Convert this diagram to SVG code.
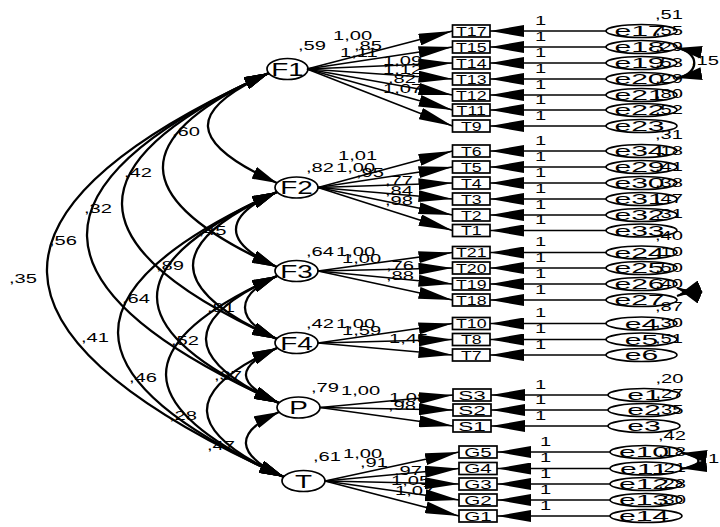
<svg xmlns="http://www.w3.org/2000/svg" width="720" height="527" viewBox="0 0 720 527">
<defs>
<style>
text{font-family:"Liberation Sans",Arial,sans-serif;fill:#000}
.nd{fill:#fff;stroke:#000;stroke-width:1.7}
.ln{fill:none;stroke:#000;stroke-width:1.6}
.cv{fill:none;stroke:#000;stroke-width:2.3}
.lat{font-size:18px;text-anchor:middle}
.obs{font-size:12.5px;text-anchor:middle}
.err{font-size:14px;text-anchor:middle}
.n{font-size:13px}
</style>
<marker id="ah" markerUnits="userSpaceOnUse" viewBox="0 -6 34 12" markerWidth="34" markerHeight="12" refX="34" refY="0" orient="auto"><path d="M0,-6 L34,0 L0,6 Z"/></marker>
<marker id="ac" markerUnits="userSpaceOnUse" viewBox="0 -6.5 25 13" markerWidth="25" markerHeight="13" refX="25" refY="0" orient="auto-start-reverse"><path d="M0,-6.5 L25,0 L0,6.5 Z"/></marker>
</defs>
<rect width="720" height="527" fill="#fff"/>

<g id="nodes">
<g id="F1"><ellipse class="nd" cx="287.5" cy="69" rx="20.5" ry="10.5"/><text class="lat" transform="matrix(1.55 0 0 1 287.5 75.5)">F1</text><text class="n" transform="matrix(1.55 0 0 1 298 50)">,59</text></g>
<g id="F2"><ellipse class="nd" cx="296.5" cy="187.5" rx="21.5" ry="10.5"/><text class="lat" transform="matrix(1.55 0 0 1 296.5 194)">F2</text><text class="n" transform="matrix(1.55 0 0 1 306 172)">,82</text></g>
<g id="F3"><ellipse class="nd" cx="296.5" cy="271" rx="21.5" ry="10.5"/><text class="lat" transform="matrix(1.55 0 0 1 296.5 277.5)">F3</text><text class="n" transform="matrix(1.55 0 0 1 306 256)">,64</text></g>
<g id="F4"><ellipse class="nd" cx="296.5" cy="343" rx="21.5" ry="10.5"/><text class="lat" transform="matrix(1.55 0 0 1 296.5 349.5)">F4</text><text class="n" transform="matrix(1.55 0 0 1 306 328)">,42</text></g>
<g id="P"><ellipse class="nd" cx="298.5" cy="407.5" rx="21.5" ry="10.5"/><text class="lat" transform="matrix(1.55 0 0 1 298.5 414)">P</text><text class="n" transform="matrix(1.55 0 0 1 311 392)">,79</text></g>
<g id="T"><ellipse class="nd" cx="303.5" cy="481" rx="21.5" ry="10.5"/><text class="lat" transform="matrix(1.55 0 0 1 303.5 487.5)">T</text><text class="n" transform="matrix(1.55 0 0 1 313 461)">,61</text></g>

<g id="T17"><rect class="nd" x="452.5" y="25" width="37.5" height="12"/><text class="obs" transform="matrix(1.42 0 0 1 471.25 35.5)">T17</text></g>
<g id="T15"><rect class="nd" x="452.5" y="41" width="37.5" height="12"/><text class="obs" transform="matrix(1.42 0 0 1 471.25 51.5)">T15</text></g>
<g id="T14"><rect class="nd" x="452.5" y="57" width="37.5" height="12"/><text class="obs" transform="matrix(1.42 0 0 1 471.25 67.5)">T14</text></g>
<g id="T13"><rect class="nd" x="452.5" y="73" width="37.5" height="12"/><text class="obs" transform="matrix(1.42 0 0 1 471.25 83.5)">T13</text></g>
<g id="T12"><rect class="nd" x="452.5" y="89" width="37.5" height="12"/><text class="obs" transform="matrix(1.42 0 0 1 471.25 99.5)">T12</text></g>
<g id="T11"><rect class="nd" x="452.5" y="104" width="37.5" height="12"/><text class="obs" transform="matrix(1.42 0 0 1 471.25 114.5)">T11</text></g>
<g id="T9"><rect class="nd" x="452.5" y="120" width="37.5" height="12"/><text class="obs" transform="matrix(1.42 0 0 1 471.25 130.5)">T9</text></g>
<g id="T6"><rect class="nd" x="452.5" y="145" width="37.5" height="12"/><text class="obs" transform="matrix(1.42 0 0 1 471.25 155.5)">T6</text></g>
<g id="T5"><rect class="nd" x="452.5" y="161" width="37.5" height="12"/><text class="obs" transform="matrix(1.42 0 0 1 471.25 171.5)">T5</text></g>
<g id="T4"><rect class="nd" x="452.5" y="177" width="37.5" height="12"/><text class="obs" transform="matrix(1.42 0 0 1 471.25 187.5)">T4</text></g>
<g id="T3"><rect class="nd" x="452.5" y="193" width="37.5" height="12"/><text class="obs" transform="matrix(1.42 0 0 1 471.25 203.5)">T3</text></g>
<g id="T2"><rect class="nd" x="452.5" y="209" width="37.5" height="12"/><text class="obs" transform="matrix(1.42 0 0 1 471.25 219.5)">T2</text></g>
<g id="T1"><rect class="nd" x="452.5" y="224.5" width="37.5" height="12"/><text class="obs" transform="matrix(1.42 0 0 1 471.25 235)">T1</text></g>
<g id="T21"><rect class="nd" x="452.5" y="246.5" width="37.5" height="12"/><text class="obs" transform="matrix(1.42 0 0 1 471.25 257)">T21</text></g>
<g id="T20"><rect class="nd" x="452.5" y="262" width="37.5" height="12"/><text class="obs" transform="matrix(1.42 0 0 1 471.25 272.5)">T20</text></g>
<g id="T19"><rect class="nd" x="452.5" y="278" width="37.5" height="12"/><text class="obs" transform="matrix(1.42 0 0 1 471.25 288.5)">T19</text></g>
<g id="T18"><rect class="nd" x="452.5" y="294" width="37.5" height="12"/><text class="obs" transform="matrix(1.42 0 0 1 471.25 304.5)">T18</text></g>
<g id="T10"><rect class="nd" x="452.5" y="317.5" width="37.5" height="12"/><text class="obs" transform="matrix(1.42 0 0 1 471.25 328)">T10</text></g>
<g id="T8"><rect class="nd" x="452.5" y="333.5" width="37.5" height="12"/><text class="obs" transform="matrix(1.42 0 0 1 471.25 344)">T8</text></g>
<g id="T7"><rect class="nd" x="452.5" y="349" width="37.5" height="12"/><text class="obs" transform="matrix(1.42 0 0 1 471.25 359.5)">T7</text></g>
<g id="S3"><rect class="nd" x="453" y="389" width="38" height="12"/><text class="obs" transform="matrix(1.8 0 0 1 472 399.5)">S3</text></g>
<g id="S2"><rect class="nd" x="453" y="404" width="38" height="12"/><text class="obs" transform="matrix(1.8 0 0 1 472 414.5)">S2</text></g>
<g id="S1"><rect class="nd" x="453" y="420" width="38" height="12"/><text class="obs" transform="matrix(1.8 0 0 1 472 430.5)">S1</text></g>
<g id="G5"><rect class="nd" x="459" y="446" width="38" height="12"/><text class="obs" transform="matrix(1.65 0 0 1 478 456.5)">G5</text></g>
<g id="G4"><rect class="nd" x="459" y="462.5" width="38" height="12"/><text class="obs" transform="matrix(1.65 0 0 1 478 473)">G4</text></g>
<g id="G3"><rect class="nd" x="459" y="478" width="38" height="12"/><text class="obs" transform="matrix(1.65 0 0 1 478 488.5)">G3</text></g>
<g id="G2"><rect class="nd" x="459" y="494" width="38" height="12"/><text class="obs" transform="matrix(1.65 0 0 1 478 504.5)">G2</text></g>
<g id="G1"><rect class="nd" x="459" y="510" width="38" height="12"/><text class="obs" transform="matrix(1.65 0 0 1 478 520.5)">G1</text></g>

<g id="e17"><ellipse class="nd" cx="641.5" cy="31" rx="35.5" ry="6.5"/><text class="err" transform="matrix(2.15 0 0 1 639.5 36)">e17</text><text class="n" transform="matrix(1.55 0 0 1 655 18.5)">,51</text></g>
<g id="e18"><ellipse class="nd" cx="641.5" cy="47" rx="35.5" ry="6.5"/><text class="err" transform="matrix(2.15 0 0 1 639.5 52)">e18</text><text class="n" transform="matrix(1.55 0 0 1 655 34.5)">,55</text></g>
<g id="e19"><ellipse class="nd" cx="641.5" cy="63" rx="35.5" ry="6.5"/><text class="err" transform="matrix(2.15 0 0 1 639.5 68)">e19</text><text class="n" transform="matrix(1.55 0 0 1 655 50.5)">,29</text></g>
<g id="e20"><ellipse class="nd" cx="641.5" cy="79" rx="35.5" ry="6.5"/><text class="err" transform="matrix(2.15 0 0 1 639.5 84)">e20</text><text class="n" transform="matrix(1.55 0 0 1 655 66.5)">,53</text></g>
<g id="e21"><ellipse class="nd" cx="641.5" cy="95" rx="35.5" ry="6.5"/><text class="err" transform="matrix(2.15 0 0 1 639.5 100)">e21</text><text class="n" transform="matrix(1.55 0 0 1 655 82.5)">,29</text></g>
<g id="e22"><ellipse class="nd" cx="641.5" cy="110" rx="35.5" ry="6.5"/><text class="err" transform="matrix(2.15 0 0 1 639.5 115)">e22</text><text class="n" transform="matrix(1.55 0 0 1 655 97.5)">,80</text></g>
<g id="e23"><ellipse class="nd" cx="641.5" cy="126" rx="35.5" ry="6.5"/><text class="err" transform="matrix(2.15 0 0 1 639.5 131)">e23</text><text class="n" transform="matrix(1.55 0 0 1 655 113.5)">,52</text></g>
<g id="e34"><ellipse class="nd" cx="641.5" cy="151" rx="35.5" ry="6.5"/><text class="err" transform="matrix(2.15 0 0 1 639.5 156)">e34</text><text class="n" transform="matrix(1.55 0 0 1 655 138.5)">,31</text></g>
<g id="e29"><ellipse class="nd" cx="641.5" cy="167" rx="35.5" ry="6.5"/><text class="err" transform="matrix(2.15 0 0 1 639.5 172)">e29</text><text class="n" transform="matrix(1.55 0 0 1 655 154.5)">,18</text></g>
<g id="e30"><ellipse class="nd" cx="641.5" cy="183" rx="35.5" ry="6.5"/><text class="err" transform="matrix(2.15 0 0 1 639.5 188)">e30</text><text class="n" transform="matrix(1.55 0 0 1 655 170.5)">,41</text></g>
<g id="e31"><ellipse class="nd" cx="641.5" cy="199" rx="35.5" ry="6.5"/><text class="err" transform="matrix(2.15 0 0 1 639.5 204)">e31</text><text class="n" transform="matrix(1.55 0 0 1 655 186.5)">,38</text></g>
<g id="e32"><ellipse class="nd" cx="641.5" cy="215" rx="35.5" ry="6.5"/><text class="err" transform="matrix(2.15 0 0 1 639.5 220)">e32</text><text class="n" transform="matrix(1.55 0 0 1 655 202.5)">,47</text></g>
<g id="e33"><ellipse class="nd" cx="641.5" cy="230.5" rx="35.5" ry="6.5"/><text class="err" transform="matrix(2.15 0 0 1 639.5 235.5)">e33</text><text class="n" transform="matrix(1.55 0 0 1 655 218)">,31</text></g>
<g id="e24"><ellipse class="nd" cx="641.5" cy="252.5" rx="35.5" ry="6.5"/><text class="err" transform="matrix(2.15 0 0 1 639.5 257.5)">e24</text><text class="n" transform="matrix(1.55 0 0 1 655 240)">,40</text></g>
<g id="e25"><ellipse class="nd" cx="641.5" cy="268" rx="35.5" ry="6.5"/><text class="err" transform="matrix(2.15 0 0 1 639.5 273)">e25</text><text class="n" transform="matrix(1.55 0 0 1 655 255.5)">,10</text></g>
<g id="e26"><ellipse class="nd" cx="641.5" cy="284" rx="35.5" ry="6.5"/><text class="err" transform="matrix(2.15 0 0 1 639.5 289)">e26</text><text class="n" transform="matrix(1.55 0 0 1 655 271.5)">,50</text></g>
<g id="e27"><ellipse class="nd" cx="641.5" cy="300" rx="35.5" ry="6.5"/><text class="err" transform="matrix(2.15 0 0 1 639.5 305)">e27</text><text class="n" transform="matrix(1.55 0 0 1 655 287.5)">,40</text></g>
<g id="e4"><ellipse class="nd" cx="641.5" cy="323.5" rx="35.5" ry="6.5"/><text class="err" transform="matrix(2.15 0 0 1 641.5 328.5)">e4</text><text class="n" transform="matrix(1.55 0 0 1 655 311)">,87</text></g>
<g id="e5"><ellipse class="nd" cx="641.5" cy="339.5" rx="35.5" ry="6.5"/><text class="err" transform="matrix(2.15 0 0 1 641.5 344.5)">e5</text><text class="n" transform="matrix(1.55 0 0 1 655 327)">,30</text></g>
<g id="e6"><ellipse class="nd" cx="641.5" cy="355" rx="35.5" ry="6.5"/><text class="err" transform="matrix(2.15 0 0 1 641.5 360)">e6</text><text class="n" transform="matrix(1.55 0 0 1 655 342.5)">,51</text></g>
<g id="e1"><ellipse class="nd" cx="644" cy="395" rx="36" ry="6.5"/><text class="err" transform="matrix(2.15 0 0 1 644 400)">e1</text><text class="n" transform="matrix(1.55 0 0 1 655.5 382.5)">,20</text></g>
<g id="e2"><ellipse class="nd" cx="644" cy="410" rx="36" ry="6.5"/><text class="err" transform="matrix(2.15 0 0 1 644 415)">e2</text><text class="n" transform="matrix(1.55 0 0 1 655.5 397.5)">,27</text></g>
<g id="e3"><ellipse class="nd" cx="644" cy="426" rx="36" ry="6.5"/><text class="err" transform="matrix(2.15 0 0 1 644 431)">e3</text><text class="n" transform="matrix(1.55 0 0 1 655.5 413.5)">,35</text></g>
<g id="e10"><ellipse class="nd" cx="646" cy="452" rx="36" ry="6.5"/><text class="err" transform="matrix(2.15 0 0 1 644 457)">e10</text><text class="n" transform="matrix(1.55 0 0 1 658 439.5)">,42</text></g>
<g id="e11"><ellipse class="nd" cx="646" cy="468.5" rx="36" ry="6.5"/><text class="err" transform="matrix(2.15 0 0 1 644 473.5)">e11</text><text class="n" transform="matrix(1.55 0 0 1 658 456)">,18</text></g>
<g id="e12"><ellipse class="nd" cx="646" cy="484" rx="36" ry="6.5"/><text class="err" transform="matrix(2.15 0 0 1 644 489)">e12</text><text class="n" transform="matrix(1.55 0 0 1 658 471.5)">,21</text></g>
<g id="e13"><ellipse class="nd" cx="646" cy="500" rx="36" ry="6.5"/><text class="err" transform="matrix(2.15 0 0 1 644 505)">e13</text><text class="n" transform="matrix(1.55 0 0 1 658 487.5)">,28</text></g>
<g id="e14"><ellipse class="nd" cx="646" cy="516" rx="36" ry="6.5"/><text class="err" transform="matrix(2.15 0 0 1 644 521)">e14</text><text class="n" transform="matrix(1.55 0 0 1 658 503.5)">,30</text></g>
</g>

<g id="labels">
<text class="n" transform="matrix(1.55 0 0 1 333 40)">1,00</text>
<text class="n" transform="matrix(1.55 0 0 1 354 50)">,85</text>
<text class="n" transform="matrix(1.55 0 0 1 340 57)">1,11</text>
<text class="n" transform="matrix(1.55 0 0 1 383 65)">1,09</text>
<text class="n" transform="matrix(1.55 0 0 1 383 74)">1,12</text>
<text class="n" transform="matrix(1.55 0 0 1 388 83)">,82</text>
<text class="n" transform="matrix(1.55 0 0 1 383 93)">1,07</text>
<text class="n" transform="matrix(1.55 0 0 1 338 160)">1,01</text>
<text class="n" transform="matrix(1.55 0 0 1 336 172)">1,00</text>
<text class="n" transform="matrix(1.55 0 0 1 356 177)">,95</text>
<text class="n" transform="matrix(1.55 0 0 1 385 185)">,77</text>
<text class="n" transform="matrix(1.55 0 0 1 385 195)">,84</text>
<text class="n" transform="matrix(1.55 0 0 1 385 205)">,98</text>
<text class="n" transform="matrix(1.55 0 0 1 336 256)">1,00</text>
<text class="n" transform="matrix(1.55 0 0 1 342 263)">1,00</text>
<text class="n" transform="matrix(1.55 0 0 1 386 270)">,76</text>
<text class="n" transform="matrix(1.55 0 0 1 386 280)">,88</text>
<text class="n" transform="matrix(1.55 0 0 1 336 328)">1,00</text>
<text class="n" transform="matrix(1.55 0 0 1 342 335)">1,59</text>
<text class="n" transform="matrix(1.55 0 0 1 389 343)">1,45</text>
<text class="n" transform="matrix(1.55 0 0 1 341 395)">1,00</text>
<text class="n" transform="matrix(1.55 0 0 1 389 402)">1,08</text>
<text class="n" transform="matrix(1.55 0 0 1 388 410)">,98</text>
<text class="n" transform="matrix(1.55 0 0 1 343 458)">1,00</text>
<text class="n" transform="matrix(1.55 0 0 1 360 467)">,91</text>
<text class="n" transform="matrix(1.55 0 0 1 394 475)">,97</text>
<text class="n" transform="matrix(1.55 0 0 1 391 485)">1,05</text>
<text class="n" transform="matrix(1.55 0 0 1 395 495)">1,07</text>

<text class="n" transform="matrix(1.55 0 0 1 172 136)">,60</text>
<text class="n" transform="matrix(1.55 0 0 1 124 177)">,42</text>
<text class="n" transform="matrix(1.55 0 0 1 84 213)">,32</text>
<text class="n" transform="matrix(1.55 0 0 1 49 245)">,56</text>
<text class="n" transform="matrix(1.55 0 0 1 9 283)">,35</text>
<text class="n" transform="matrix(1.55 0 0 1 198.5 235)">,45</text>
<text class="n" transform="matrix(1.55 0 0 1 156 270)">,89</text>
<text class="n" transform="matrix(1.55 0 0 1 122 303)">,64</text>
<text class="n" transform="matrix(1.55 0 0 1 81 342)">,41</text>
<text class="n" transform="matrix(1.55 0 0 1 207 312)">,81</text>
<text class="n" transform="matrix(1.55 0 0 1 171 345)">,52</text>
<text class="n" transform="matrix(1.55 0 0 1 129 382)">,46</text>
<text class="n" transform="matrix(1.55 0 0 1 214 380)">,37</text>
<text class="n" transform="matrix(1.55 0 0 1 169 420)">,28</text>
<text class="n" transform="matrix(1.55 0 0 1 207 450)">,47</text>
<text class="n" transform="matrix(1.55 0 0 1 691 65)">,15</text>
<text class="n" transform="matrix(1.55 0 0 1 708 463)">1</text>

<text class="n" transform="matrix(1.55 0 0 1 535 24.5)">1</text>
<text class="n" transform="matrix(1.55 0 0 1 535 40.5)">1</text>
<text class="n" transform="matrix(1.55 0 0 1 535 56.5)">1</text>
<text class="n" transform="matrix(1.55 0 0 1 535 72.5)">1</text>
<text class="n" transform="matrix(1.55 0 0 1 535 88.5)">1</text>
<text class="n" transform="matrix(1.55 0 0 1 535 103.5)">1</text>
<text class="n" transform="matrix(1.55 0 0 1 535 119.5)">1</text>
<text class="n" transform="matrix(1.55 0 0 1 535 144.5)">1</text>
<text class="n" transform="matrix(1.55 0 0 1 535 160.5)">1</text>
<text class="n" transform="matrix(1.55 0 0 1 535 176.5)">1</text>
<text class="n" transform="matrix(1.55 0 0 1 535 192.5)">1</text>
<text class="n" transform="matrix(1.55 0 0 1 535 208.5)">1</text>
<text class="n" transform="matrix(1.55 0 0 1 535 224)">1</text>
<text class="n" transform="matrix(1.55 0 0 1 535 246)">1</text>
<text class="n" transform="matrix(1.55 0 0 1 535 261.5)">1</text>
<text class="n" transform="matrix(1.55 0 0 1 535 277.5)">1</text>
<text class="n" transform="matrix(1.55 0 0 1 535 293.5)">1</text>
<text class="n" transform="matrix(1.55 0 0 1 535 317)">1</text>
<text class="n" transform="matrix(1.55 0 0 1 535 333)">1</text>
<text class="n" transform="matrix(1.55 0 0 1 535 348.5)">1</text>
<text class="n" transform="matrix(1.55 0 0 1 535 388.5)">1</text>
<text class="n" transform="matrix(1.55 0 0 1 535 403.5)">1</text>
<text class="n" transform="matrix(1.55 0 0 1 535 419.5)">1</text>
<text class="n" transform="matrix(1.55 0 0 1 540 445.5)">1</text>
<text class="n" transform="matrix(1.55 0 0 1 540 462)">1</text>
<text class="n" transform="matrix(1.55 0 0 1 540 477.5)">1</text>
<text class="n" transform="matrix(1.55 0 0 1 540 493.5)">1</text>
<text class="n" transform="matrix(1.55 0 0 1 540 509.5)">1</text>
</g>

<g id="connectors">
<g class="ln" marker-end="url(#ah)">
<path d="M307,69 L452.5,31"/>
<path d="M307,69 L452.5,47"/>
<path d="M307,69 L452.5,63"/>
<path d="M307,69 L452.5,79"/>
<path d="M307,69 L452.5,95"/>
<path d="M307,69 L452.5,110"/>
<path d="M307,69 L452.5,126"/>
<path d="M318,187.5 L452.5,151"/>
<path d="M318,187.5 L452.5,167"/>
<path d="M318,187.5 L452.5,183"/>
<path d="M318,187.5 L452.5,199"/>
<path d="M318,187.5 L452.5,215"/>
<path d="M318,187.5 L452.5,230.5"/>
<path d="M318,271 L452.5,252.5"/>
<path d="M318,271 L452.5,268"/>
<path d="M318,271 L452.5,284"/>
<path d="M318,271 L452.5,300"/>
<path d="M318,343 L452.5,323.5"/>
<path d="M318,343 L452.5,339.5"/>
<path d="M318,343 L452.5,355"/>
<path d="M320,407.5 L453,395"/>
<path d="M320,407.5 L453,410"/>
<path d="M320,407.5 L453,426"/>
<path d="M325,481 L459,452"/>
<path d="M325,481 L459,468.5"/>
<path d="M325,481 L459,484"/>
<path d="M325,481 L459,500"/>
<path d="M325,481 L459,516"/>
<path d="M606,31 L490,31"/>
<path d="M606,47 L490,47"/>
<path d="M606,63 L490,63"/>
<path d="M606,79 L490,79"/>
<path d="M606,95 L490,95"/>
<path d="M606,110 L490,110"/>
<path d="M606,126 L490,126"/>
<path d="M606,151 L490,151"/>
<path d="M606,167 L490,167"/>
<path d="M606,183 L490,183"/>
<path d="M606,199 L490,199"/>
<path d="M606,215 L490,215"/>
<path d="M606,230.5 L490,230.5"/>
<path d="M606,252.5 L490,252.5"/>
<path d="M606,268 L490,268"/>
<path d="M606,284 L490,284"/>
<path d="M606,300 L490,300"/>
<path d="M606,323.5 L490,323.5"/>
<path d="M606,339.5 L490,339.5"/>
<path d="M606,355 L490,355"/>
<path d="M608,395 L491,395"/>
<path d="M608,410 L491,410"/>
<path d="M608,426 L491,426"/>
<path d="M610,452 L497,452"/>
<path d="M610,468.5 L497,468.5"/>
<path d="M610,484 L497,484"/>
<path d="M610,500 L497,500"/>
<path d="M610,516 L497,516"/>
</g>
<g class="cv" marker-start="url(#ac)" marker-end="url(#ac)">
<path d="M269,73 C186.3,110.2 186.3,142.2 277,183"/>
<path d="M269,73 C126.3,137.2 126.3,199.2 277,267"/>
<path d="M269,73 C71.7,161.8 71.7,246.6 277,339"/>
<path d="M269,73 C24.7,182.9 24.7,288.6 279,403"/>
<path d="M269,73 C-29.5,207.3 -29.5,335.9 284,477"/>
<path d="M277,192 C222.3,216.6 222.3,242.4 277,267"/>
<path d="M277,192 C165,242.4 165,288.6 277,339"/>
<path d="M277,192 C116.7,264.1 116.7,330 279,403"/>
<path d="M277,192 C63.9,287.9 63.9,378 284,477"/>
<path d="M277,276 C234.3,295.2 234.3,319.8 277,339"/>
<path d="M277,276 C182,318.8 182,359.3 279,403"/>
<path d="M277,276 C127.9,343.1 127.9,406.8 284,477"/>
<path d="M277,348 C235.3,366.8 235.3,383.3 279,403"/>
<path d="M277,348 C182.5,390.5 182.5,431.3 284,477"/>
<path d="M279,412 C234.1,432.2 234.1,454.5 284,477"/>
<path d="M677,48 C700,52 700,74 677,78"/>
<path d="M677,288 C699,297 699,287 677,296"/>
<path d="M682,453 C704,456 704,466 682,468.5"/>
</g>
</g>
</svg>
